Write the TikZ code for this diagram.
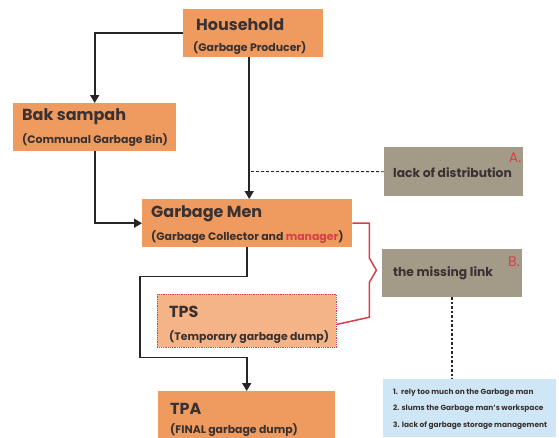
\documentclass[tikz,border=0pt]{standalone}
\usepackage{fontspec}
\setmainfont{Poppins}
\usetikzlibrary{arrows.meta}
\definecolor{orng}{HTML}{EF9A5E}
\definecolor{lorng}{HTML}{F4B487}
\definecolor{taupe}{HTML}{A39A87}
\definecolor{lblue}{HTML}{CFE6F6}
\definecolor{txt}{HTML}{3A3232}
\definecolor{redl}{HTML}{D6404B}
\tikzset{
  box/.style={draw=none, fill=orng, inner sep=0pt, anchor=north west},
  ttl/.style={anchor=west, inner sep=0pt, text=txt, font=\bfseries\fontsize{16}{16}\selectfont},
  sub/.style={anchor=west, inner sep=0pt, text=txt, font=\bfseries\fontsize{10.9}{11}\selectfont},
  note/.style={anchor=west, inner sep=0pt, text=txt, font=\bfseries\fontsize{12.3}{12}\selectfont},
  letter/.style={anchor=center, inner sep=0pt, text=redl, font=\fontsize{14}{14}\selectfont},
  lst/.style={anchor=west, inner sep=0pt, text=txt, font=\bfseries\fontsize{7.4}{7}\selectfont},
  arr/.style={draw=black!85, line width=1.6pt, -{Triangle[width=9pt,length=8pt]}},
}
\begin{document}
\begin{tikzpicture}[x=1pt,y=-1pt]
\useasboundingbox[fill=white] (0,0) rectangle (559,437);
% boxes
\node[box, minimum width=140pt, minimum height=48pt] (house) at (183,9) {};
\node[box, minimum width=163pt, minimum height=48pt] (bak) at (13,103) {};
\node[box, minimum width=210pt, minimum height=48pt] (gm) at (142,199) {};
\node[box, fill=lorng, draw=redl, densely dotted, line width=0.8pt, minimum width=179pt, minimum height=53pt] (tps) at (157,294) {};
\node[box, minimum width=177pt, minimum height=50pt] (tpa) at (158,391) {};
\node[box, fill=taupe, minimum width=139pt, minimum height=49pt] (lod) at (384,147) {};
\node[box, fill=taupe, minimum width=140pt, minimum height=48pt] (ml) at (382,249) {};
\node[box, fill=lblue, minimum width=173pt, minimum height=58pt] (blue) at (383,379) {};
% texts
\node[ttl] (houset) at (196,25) {Household};
\node[sub] (houses) at (193,48) {(Garbage Producer)};
\node[ttl] (bakt) at (22,117) {Bak sampah};
\node[sub] (baks) at (22,140) {(Communal Garbage Bin)};
\node[ttl] (gmt) at (151,214) {Garbage Men};
\node[sub] (gms) at (151,237) {(Garbage Collector and \textcolor{redl}{manager})};
\node[ttl] (tpst) at (169,312) {TPS};
\node[sub] (tpss) at (169,337) {(Temporary garbage dump)};
\node[ttl] (tpat) at (170,409) {TPA};
\node[sub] (tpas) at (170,430) {(FINAL garbage dump)};
\node[note] (lodt) at (393,173) {lack of distribution};
\node[letter] (la) at (515,158) {A.};
\node[note] (mlt) at (393,273) {the missing link};
\node[letter] (lb) at (514,262) {B.};
\node[lst] (l1) at (393,393) {1.\ \ rely too much on the Garbage man};
\node[lst] (l2) at (393,409) {2. slums the Garbage man's workspace};
\node[lst] (l3) at (393,426) {3. lack of garbage storage management};
% connectors
\draw[arr] (house.west) -| (bak.north);
\draw[arr] ([xshift=-4pt]house.south) -- ([xshift=2pt]gm.north);
\coordinate (dend) at (249,171.5);
\draw[black!85, line width=0.9pt, dashed, dash pattern=on 3pt off 2pt] (lod.west) -- (dend);
\draw[arr] (bak.south) |- (gm.west);
\draw[arr] (gm.south) -- ++(0,29) -- ++(-107,0) -- ++(0,81) -| (tpa.north);
\coordinate (tpsr) at ([yshift=-3.5pt]tps.east);
\draw[redl, line width=1.5pt, line join=miter] (gm.east) -- ++(17,0) -- ++(0,35) -- ++(7,12) -- ++(-7,12) -- ++(0,35) -- (tpsr);
\draw[black!85, line width=2.2pt, dash pattern=on 2.5pt off 2pt] (ml.south) -- (ml.south |- blue.north);
\end{tikzpicture}
\end{document}
